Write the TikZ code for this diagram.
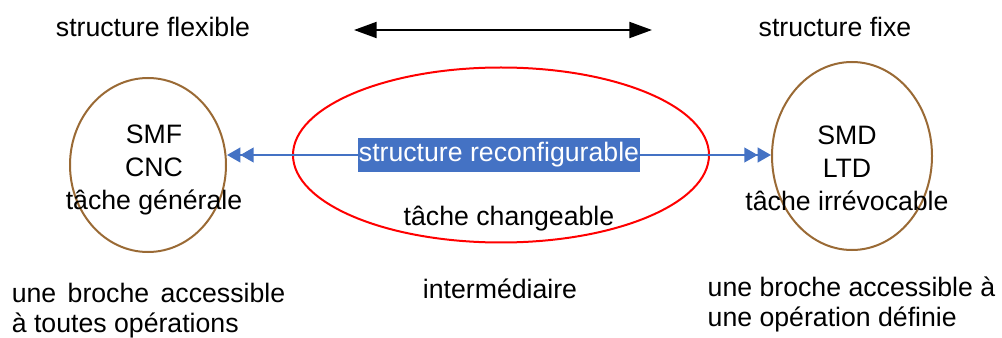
\documentclass[tikz,border=0pt]{standalone}
\usepackage{fontspec}
\setmainfont{Liberation Sans}
\usepackage{tikz}
\usetikzlibrary{positioning,arrows.meta,shapes.geometric}
\definecolor{ovalBrown}{HTML}{9A6A35}
\definecolor{ovalRed}{HTML}{FF0000}
\definecolor{reconfBlue}{HTML}{4472C4}
\tikzset{
  oval/.style={draw, ellipse, line width=1.5pt, inner sep=0pt},
  ovalSide/.style={oval, draw=ovalBrown},
  ovalMid/.style={oval, draw=ovalRed},
  plainText/.style={font=\fontsize{20}{24.75}\selectfont, align=center, inner sep=0pt},
  noteText/.style={font=\fontsize{20}{22.5}\selectfont, inner sep=0pt},
  reconfArrow/.style={{Triangle[length=10pt,width=11pt]Triangle[length=10pt,width=11pt]}-{Triangle[length=10pt,width=11pt]Triangle[length=10pt,width=11pt]}, draw=reconfBlue, line width=1.6pt},
  reconfLabel/.style={fill=reconfBlue, text=white, font=\fontsize{20}{24}\selectfont, inner xsep=1pt, minimum height=22.5pt},
  spanArrow/.style={{Triangle[length=17pt,width=12pt]}-{Triangle[length=17pt,width=12pt]}, line width=1.5pt}
}

\begin{document}
\begin{tikzpicture}[x=0.75pt, y=-0.75pt]
  \useasboundingbox (0,0) rectangle (1002,338);

  % the three structures
  \node[ovalSide, minimum width=117pt, minimum height=130.5pt] (smf) at (148,165) {};
  \node[ovalMid, minimum width=312pt, minimum height=131.25pt] (mid) at (501,155) {};
  \node[ovalSide, minimum width=120pt, minimum height=141pt] (smd) at (852,156) {};

  \node[plainText] (smfText) at (154,170) {SMF\\CNC\\tâche générale};
  \node[plainText] (smdText) at (847,168) {SMD\\LTD\\tâche irrévocable};
  \node[plainText] (midText) at (509,219) {tâche changeable};

  % top headings
  \node[plainText] (flexTitle) at (153,27) {structure flexible};
  \node[plainText] (fixTitle) at (835,27) {structure fixe};
  \coordinate (spanL) at (354,30);
  \coordinate (spanR) at (652,30);
  \draw[spanArrow] (spanL) -- (spanR);

  % reconfigurable link
  \draw[reconfArrow] (smf.east |- mid.center) -- node[reconfLabel]{structure reconfigurable} (smd.west |- mid.center);

  % bottom notes
  \node[noteText, align=justify, text width=205pt] (flexNote) at (148.5,311) {une broche accessible à toutes opérations};
  \node[plainText] (midNote) at (500,289) {intermédiaire};
  \node[noteText, align=left] (fixNote) at (851.5,304) {une broche accessible à\\une opération définie};
\end{tikzpicture}
\end{document}
